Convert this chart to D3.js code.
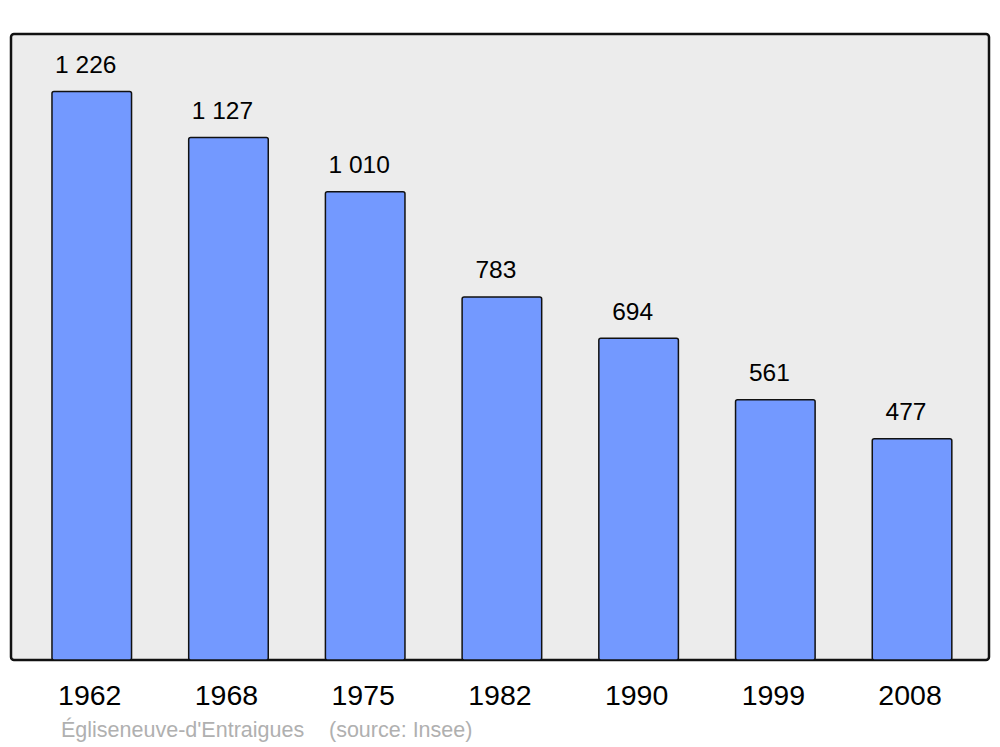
<!DOCTYPE html>
<html><head><meta charset="utf-8">
<script src="https://cdn.jsdelivr.net/npm/d3@7"></script>
<style>body{margin:0;background:#fff}svg{display:block}</style>
</head><body>
<script>
const years = ["1962","1968","1975","1982","1990","1999","2008"];
const population = [1226,1127,1010,783,694,561,477];
const valueLabels = ["1 226","1 127","1 010","783","694","561","477"];
const commune = "Égliseneuve-d'Entraigues";
const source = "(source: Insee)";

const W = 1000, H = 747;
const svg = d3.select("body").append("svg").attr("width", W).attr("height", H);
const font = "'Liberation Sans', Arial, sans-serif";

const box = {x0: 11, y0: 34, x1: 989, y1: 660};
svg.append("rect").attr("x", box.x0).attr("y", box.y0)
  .attr("width", box.x1 - box.x0).attr("height", box.y1 - box.y0)
  .attr("rx", 3).attr("fill", "#ececec").attr("stroke", "#111").attr("stroke-width", 2.5);

const pi = 0.418;
const x = d3.scaleBand().domain(years).range([23.4, 980.4]).paddingInner(pi).paddingOuter(pi/2);
const y = d3.scaleLinear().domain([0, 1226]).range([660, 91.5]);

svg.append("g").selectAll("rect").data(years).join("rect")
  .attr("x", d => x(d)).attr("width", x.bandwidth())
  .attr("y", (d,i) => y(population[i])).attr("height", (d,i) => y(0) - y(population[i]))
  .attr("rx", 2).attr("fill", "#7399ff").attr("stroke", "#111").attr("stroke-width", 1.5);

svg.append("g").selectAll("text").data(years).join("text")
  .attr("x", d => x(d) + x.bandwidth()/2 - 6)
  .attr("y", (d,i) => y(population[i]) - 18.5)
  .attr("text-anchor", "middle").attr("font-family", font).attr("font-size", 24.5)
  .attr("fill", "#000").text((d,i) => valueLabels[i]);

const axis = d3.axisBottom(x).tickSize(0).tickPadding(0);
const ag = svg.append("g").attr("transform", "translate(-2,0)").call(axis);
ag.select(".domain").remove();
ag.selectAll("text").attr("y", 705).attr("dy", null)
  .attr("font-family", font).attr("font-size", 28.5).attr("fill", "#000");

svg.append("text").attr("x", 61).attr("y", 737).attr("font-family", font)
  .attr("font-size", 21.5).attr("fill", "#b0b0b0").text(commune);
svg.append("text").attr("x", 329).attr("y", 737).attr("font-family", font)
  .attr("font-size", 21.5).attr("fill", "#b0b0b0").text(source);
</script>
</body></html>
